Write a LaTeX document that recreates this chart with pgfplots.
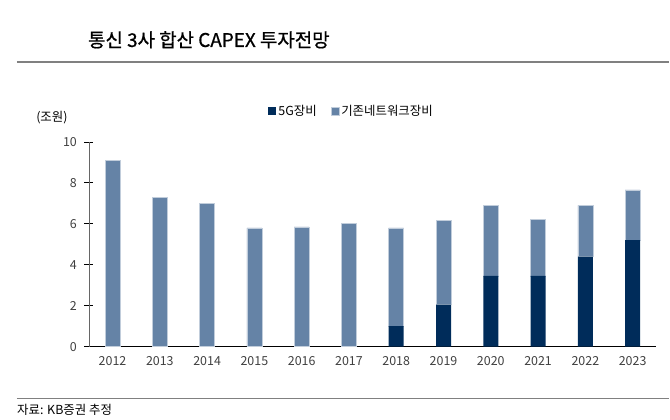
\documentclass[border=0pt]{standalone}
\usepackage{fontspec}
\setmainfont{Noto Sans CJK KR}
\newfontfamily\titlefont[FakeBold=0.8]{Noto Sans CJK KR}
\usepackage{pgfplots}
\pgfplotsset{compat=1.18}
\definecolor{navy}{RGB}{0,44,90}
\definecolor{steel}{RGB}{101,131,166}
\begin{document}
\begin{tikzpicture}
\path (0bp,0bp) rectangle (670bp,420bp);
% title and rules
\node[anchor=base west, inner sep=0pt, font=\titlefont\fontsize{19}{19}\selectfont] at (88bp,373bp) {통신 3사 합산 CAPEX 투자전망};
\draw[gray, line width=1.5bp] (17bp,358bp) -- (670bp,358bp);
\draw[gray, line width=1.5bp] (17bp,21bp) -- (670bp,21bp);
\node[anchor=base west, inner sep=0pt, font=\fontsize{12.5}{12.5}\selectfont] at (17bp,5bp) {자료: KB증권 추정};
\node[font=\fontsize{12.5}{12.5}\selectfont] at (52bp,302bp) {(조원)};
\begin{axis}[
    scale only axis,
    width=568bp, height=205bp,
    at={(89bp,73bp)}, anchor=south west,
    xmin=-0.5, xmax=11.5, ymin=0, ymax=10,
    axis x line=bottom, axis y line=left,
    axis line style={-},
    x axis line style={black},
    y axis line style={gray!80!black},
    ybar stacked, bar width=15bp,
    xtick={0,...,11},
    xticklabels={2012,2013,2014,2015,2016,2017,2018,2019,2020,2021,2022,2023},
    x tick style={draw=none},
    minor xtick={0.5,1.5,...,10.5},
    minor x tick style={black, line width=0.6bp},
    minor tick length=4bp,
    xtick align=inside,
    ytick={0,2,...,10},
    y tick style={black, line width=0.6bp},
    major tick length=9bp,
    ytick align=center,
    /pgf/number format/assume math mode=true,
    tick label style={font=\fontsize{12.5}{12.5}\selectfont, text=black!75},
    xticklabel style={yshift=-6bp},
    yticklabel style={xshift=-4bp},
    legend style={at={(0.463,1.151)}, anchor=center, draw=none, fill=none,
        font=\fontsize{12.5}{12.5}\selectfont, legend columns=2,
        /tikz/every even column/.append style={column sep=12bp}},
    legend image code/.code={\fill[#1] (0bp,-4bp) rectangle (8bp,4bp);},
]
\addplot[fill=navy, draw=none] coordinates {
    (0,0) (1,0) (2,0) (3,0) (4,0) (5,0)
    (6,1.0) (7,2.05) (8,3.45) (9,3.45) (10,4.4) (11,5.2)};
\addlegendentry{5G장비}
\addplot[fill=steel, draw=steel!40!white, line width=0.6bp] coordinates {
    (0,9.1) (1,7.3) (2,7.0) (3,5.8) (4,5.85) (5,6.0)
    (6,4.8) (7,4.1) (8,3.45) (9,2.75) (10,2.5) (11,2.45)};
\addlegendentry{기존네트워크장비}
\end{axis}
\end{tikzpicture}
\end{document}
